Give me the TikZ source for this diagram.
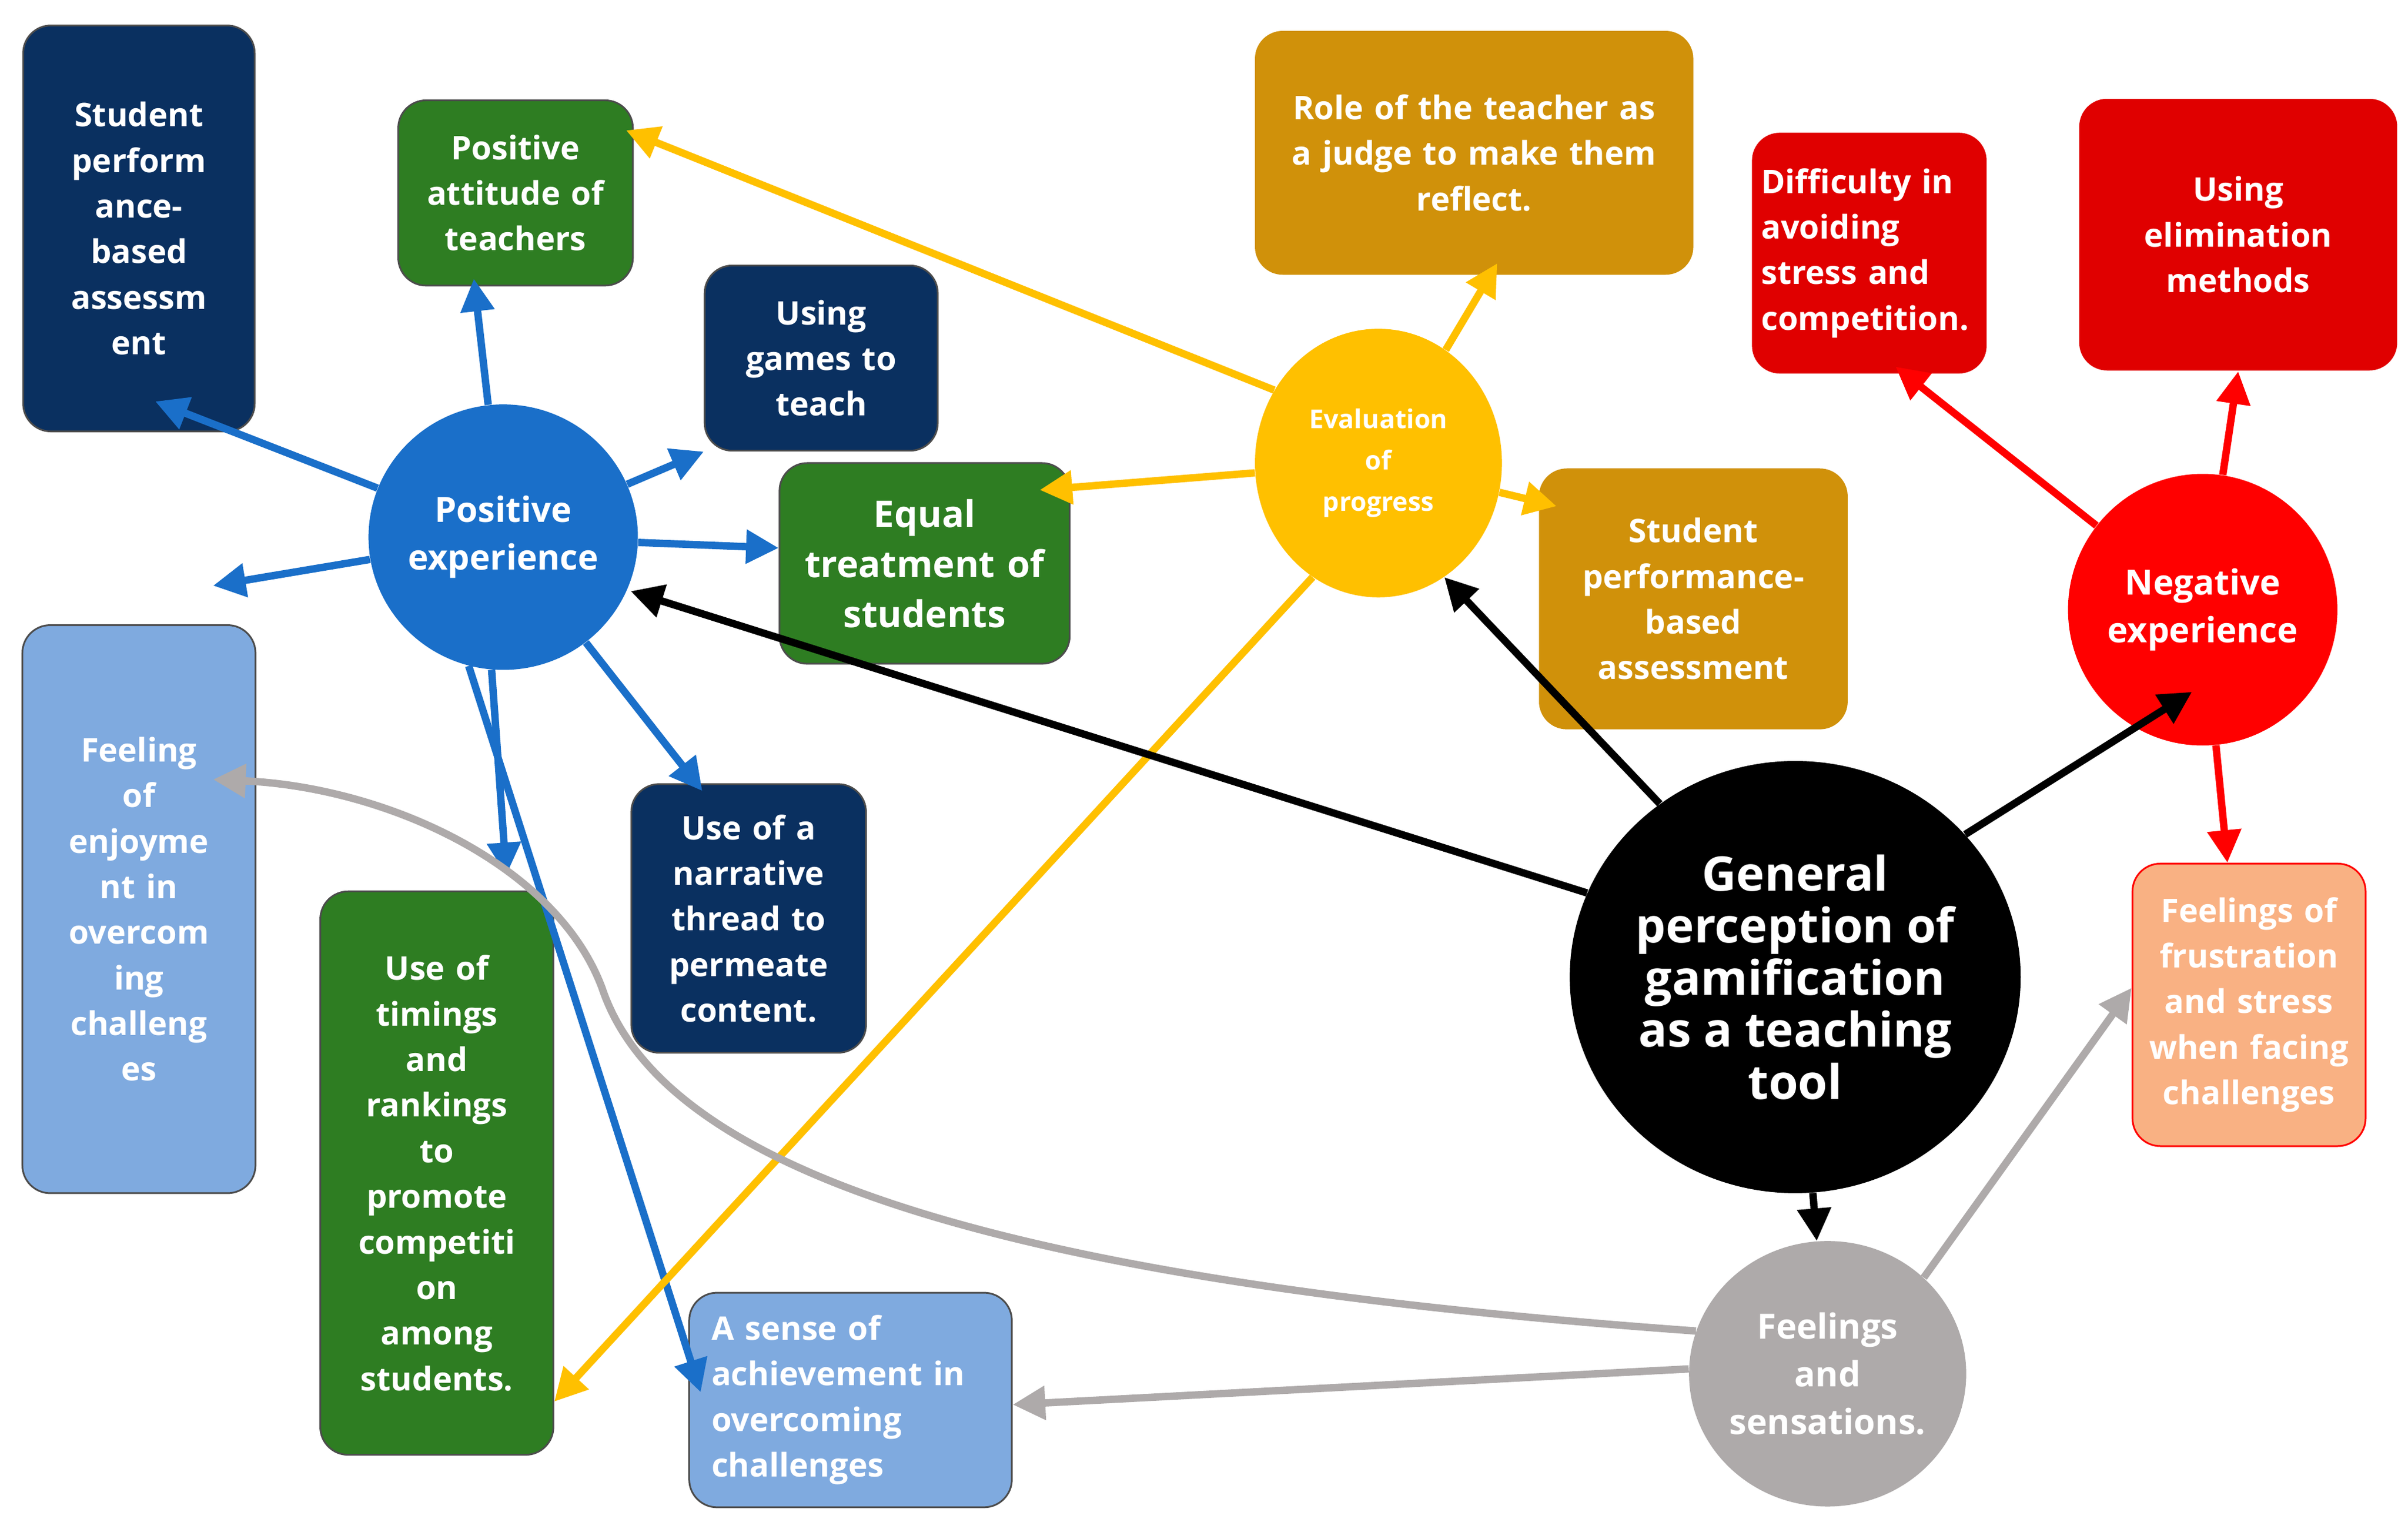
\documentclass[tikz,border=0pt]{standalone}
\usepackage{fontspec}
\setmainfont{Open Sans}
\usetikzlibrary{shapes.geometric,arrows.meta,calc}
\def\u{0.025cm}
\definecolor{navy}{HTML}{0A3060}
\definecolor{grn}{HTML}{2E7D22}
\definecolor{gold}{HTML}{D0910A}
\definecolor{rd}{HTML}{E00000}
\definecolor{lb}{HTML}{7FAADF}
\definecolor{peach}{HTML}{F9B183}
\definecolor{pblue}{HTML}{1A6FC9}
\definecolor{yel}{HTML}{FFC000}
\definecolor{nred}{HTML}{FF0000}
\definecolor{gry}{HTML}{AEAAAA}
\tikzset{
 box/.style={rounded corners=0.45cm,draw=black!70,line width=0.8pt,text=white,align=center,inner sep=2pt,font=\fontsize{15}{21}\selectfont\bfseries},
 circ/.style={ellipse,inner sep=0pt,text=white,align=center,font=\fontsize{16}{22}\selectfont\bfseries},
 arr/.style={line width=3.4pt,-{Triangle[length=15pt,width=15pt]}},
}
\begin{document}
\begin{tikzpicture}[x=0.025cm,y=-0.025cm]
\useasboundingbox[fill=white] (0,0) rectangle (1560,984);
% boxes
\node[box,fill=navy,minimum width=150*\u,minimum height=263*\u,text width=140*\u] (A) at (90,148) {Student\\perform\\ance-\\based\\assessm\\ent};
\node[box,fill=grn,minimum width=152*\u,minimum height=120*\u,text width=140*\u] (B) at (334,125) {Positive\\attitude of\\teachers};
\node[box,fill=navy,minimum width=151*\u,minimum height=120*\u,text width=140*\u] (C) at (532,232) {Using\\games to\\teach};
\node[box,fill=grn,minimum width=188*\u,minimum height=130*\u,text width=175*\u,font=\fontsize{17}{23}\selectfont\bfseries] (D) at (599,365) {Equal\\treatment of\\students};
\node[box,draw=none,fill=gold,minimum width=284*\u,minimum height=158*\u,text width=270*\u] (E) at (955,99) {Role of the teacher as\\a judge to make them\\reflect.};
\node[box,draw=none,fill=gold,minimum width=200*\u,minimum height=169*\u,text width=190*\u] (F) at (1097,388) {Student\\performance-\\based\\assessment};
\node[box,draw=none,fill=rd,minimum width=152*\u,minimum height=156*\u,text width=140*\u,align=left] (G) at (1211,164) {Difficulty in\\avoiding\\stress and\\competition.};
\node[box,draw=none,fill=rd,minimum width=206*\u,minimum height=176*\u,text width=190*\u] (H) at (1450,152) {Using\\elimination\\methods\\[40pt]};
\node[box,fill=lb,minimum width=151*\u,minimum height=368*\u,text width=140*\u] (I) at (90,589) {Feeling\\of\\enjoyme\\nt in\\overcom\\ing\\challeng\\es\\[60pt]};
\node[box,fill=grn,minimum width=151*\u,minimum height=365*\u,text width=140*\u] (J) at (283,760) {Use of\\timings\\and\\rankings\\to\\promote\\competiti\\on\\among\\students.};
\node[box,fill=navy,minimum width=152*\u,minimum height=174*\u,text width=140*\u] (K) at (485,595) {Use of a\\narrative\\thread to\\permeate\\content.};
\node[box,fill=lb,minimum width=209*\u,minimum height=139*\u,text width=180*\u,align=left] (L) at (551,907) {A sense of\\achievement in\\overcoming\\challenges};
\node[box,draw=nred,fill=peach,minimum width=151*\u,minimum height=183*\u,text width=145*\u] (M) at (1457,651) {Feelings of\\frustration\\and stress\\when facing\\challenges\\[30pt]};
% circles
\node[circ,fill=pblue,minimum width=160*\u,minimum height=172*\u] (P) at (326,348) {Positive\\experience};
\node[circ,fill=yel,minimum width=160*\u,minimum height=174*\u,font=\fontsize{12}{19}\selectfont\bfseries] (Ev) at (893,300) {Evaluation\\of\\progress};
\node[circ,fill=nred,minimum width=160*\u,minimum height=176*\u] (N) at (1427,395) {Negative\\experience};
\node[circ,fill=black,minimum width=250*\u,minimum height=280*\u,font=\fontsize{22}{24}\selectfont\bfseries] (Gen) at (1163,633) {General\\perception of\\gamification\\as a teaching\\tool};
\node[circ,fill=gry,minimum width=160*\u,minimum height=172*\u] (Fs) at (1184,890) {Feelings\\and\\sensations.};
% blue arrows
\begin{scope}[arr,draw=pblue,color=pblue]
\draw (P) -- ($(A.south east)+(-65,-20)$);
\draw (P) -- ($(B.south)+(-27,-5)$);
\draw (P) -- (C.south west);
\draw (P) -- ($(D.west)+(0,-10)$);
\draw (P) -- ($(I.north east)+(-28,-25)$);
\draw (P.265) -- ($(J.north)+(45,-10)$);
\draw (P.255) -- ($(L.west)+(8,-5)$);
\draw (P) -- ($(K.north)+(-30,5)$);
\end{scope}
% yellow arrows
\begin{scope}[arr,draw=yel,color=yel]
\draw (Ev.145) -- ($(B.north east)+(-5,20)$);
\draw (Ev) -- ($(E.south)+(15,-8)$);
\draw (Ev) -- ($(D.north east)+(-20,18)$);
\draw (Ev) -- ($(F.north west)+(12,25)$);
\draw (Ev.240) -- ($(J.south east)+(0,-35)$);
\end{scope}
% black arrows
\begin{scope}[arr,draw=black]
\draw (Gen.158) -- ($(P.east)+(-5,35)$);
\draw (Gen.128) -- (Ev.300);
\draw (Gen.40) -- ($(N.south)+(-7,-35)$);
\draw (Gen) -- (Fs);
\end{scope}
% red arrows
\begin{scope}[arr,draw=nred,color=nred]
\draw (N) -- ($(G.south)+(17,-5)$);
\draw (N) -- (H.south);
\draw (N) -- ($(M.north)+(-14,0)$);
\end{scope}
% gray arrows
\begin{scope}[arr,draw=gry,color=gry]
\draw (Fs.45) -- ($(M.west)+(0,-11)$);
\draw (Fs.178) -- ($(L.east)+(0,3)$);
\draw (Fs.162) .. controls (650,830) and (430,760) .. (390,640) .. controls (360,560) and (250,510) .. ($(I.east)+(-28,-84)$);
\end{scope}
\end{tikzpicture}
\end{document}
